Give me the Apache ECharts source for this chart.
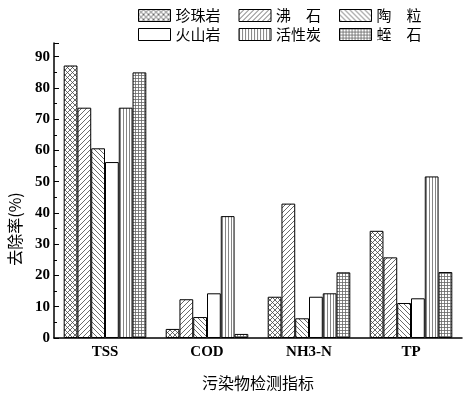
<!DOCTYPE html>
<html>
<head>
<meta charset="utf-8">
<script src="https://cdn.jsdelivr.net/npm/echarts@6/dist/echarts.min.js"></script>
<style>
html, body { margin: 0; padding: 0; background: #fff; }
#chart1 { width: 464px; height: 396px; }
</style>
</head>
<body>
<div id="chart1"></div>
<script>
let categories = ['TSS', 'COD', 'NH3-N', 'TP'];
let names = ['珍珠岩', '沸　石', '陶　粒', '火山岩', '活性炭', '蛭　石'];
let zhenzhuyan = [87.2, 2.9, 13.2, 34.3];
let feishi = [73.7, 12.4, 43.0, 25.8];
let taoli = [60.7, 6.7, 6.3, 11.2];
let huoshanyan = [56.3, 14.3, 13.2, 12.7];
let huoxingtan = [73.7, 39.0, 14.3, 51.7];
let zhishi = [85.0, 1.3, 21.0, 21.1];
let yTicks = [0, 10, 20, 30, 40, 50, 60, 70, 80, 90];

let chart1 = echarts.init(document.getElementById("chart1"));

// canvas tiles for the hatch fills
function makePattern(kind) {
    let s = 5;
    if (kind == 'vert' || kind == 'grid') s = 3;
    let c = document.createElement('canvas');
    c.width = s;
    c.height = s;
    let ctx = c.getContext('2d');
    ctx.fillStyle = '#fff';
    ctx.fillRect(0, 0, s, s);
    ctx.strokeStyle = kind == 'grid' || kind == 'vert' ? '#666' : '#444';
    ctx.lineWidth = 0.8;
    ctx.beginPath();
    if (kind == 'fwd' || kind == 'cross') {
        ctx.moveTo(-1, s + 1); ctx.lineTo(s + 1, -1);
        ctx.moveTo(-1, 1); ctx.lineTo(1, -1);
        ctx.moveTo(s - 1, s + 1); ctx.lineTo(s + 1, s - 1);
    }
    if (kind == 'back' || kind == 'cross') {
        ctx.moveTo(-1, -1); ctx.lineTo(s + 1, s + 1);
        ctx.moveTo(s - 1, -1); ctx.lineTo(s + 1, 1);
        ctx.moveTo(-1, s - 1); ctx.lineTo(1, s + 1);
    }
    if (kind == 'vert' || kind == 'grid') {
        ctx.moveTo(0.5, 0); ctx.lineTo(0.5, s);
    }
    if (kind == 'grid') {
        ctx.moveTo(0, 0.5); ctx.lineTo(s, 0.5);
    }
    ctx.stroke();
    return { image: c, repeat: 'repeat' };
}

let fills = [
    makePattern('cross'),
    makePattern('fwd'),
    makePattern('back'),
    '#ffffff',
    makePattern('vert'),
    makePattern('grid')
];
let seriesData = [zhenzhuyan, feishi, taoli, huoshanyan, huoxingtan, zhishi];

let series = [];
for (let i = 0; i < names.length; ++i) {
    series.push({
        name: names[i],
        type: 'bar',
        data: seriesData[i],
        barGap: '0%',
        barCategoryGap: '19%',
        itemStyle: { color: fills[i], borderColor: '#000', borderWidth: 1 },
        emphasis: { disabled: true }
    });
}

let latin = '"Liberation Serif", "Noto Sans CJK SC", serif';
let cjk = '"Noto Sans CJK SC", "Liberation Serif", sans-serif';

let legendBase = {
    left: 133,
    orient: 'horizontal',
    itemWidth: 32,
    itemHeight: 12,
    itemGap: 18,
    icon: 'rect',
    selectedMode: false,
    itemStyle: { borderWidth: 1, borderColor: '#000' },
    textStyle: { fontFamily: cjk, fontSize: 15, color: '#000' }
};

let option = {
    animation: false,
    backgroundColor: '#fff',
    grid: { left: 54, right: 2, top: 43, bottom: 50 },
    legend: [
        Object.assign({}, legendBase, { top: 3, data: names.slice(0, 3) }),
        Object.assign({}, legendBase, { top: 22, data: names.slice(3) })
    ],
    xAxis: {
        type: 'category',
        data: categories,
        name: '污染物检测指标',
        nameLocation: 'middle',
        nameGap: 37,
        nameTextStyle: { fontFamily: cjk, fontSize: 16, color: '#000' },
        axisLine: { lineStyle: { color: '#000', width: 1.5 } },
        axisTick: { show: false },
        axisLabel: { fontFamily: latin, fontSize: 15, fontWeight: 'bold', color: '#000', margin: 7 }
    },
    yAxis: {
        type: 'value',
        min: 0,
        max: 94.4,
        interval: 10,
        axisLine: { show: true, lineStyle: { color: '#000', width: 1.5 } },
        axisTick: { show: true, inside: true, length: 5, lineStyle: { color: '#000' } },
        minorTick: { show: true, splitNumber: 2, length: 3, lineStyle: { color: '#000' } },
        splitLine: { show: false },
        axisLabel: {
            fontFamily: latin, fontSize: 15, fontWeight: 'bold', color: '#000', margin: 4,
            showMaxLabel: false,
            formatter: function (v) { return yTicks.indexOf(v) >= 0 ? String(v) : ''; }
        }
    },
    graphic: [{
        type: 'text',
        x: 15,
        y: 229,
        rotation: Math.PI / 2,
        style: {
            text: '去除率(%)',
            fontFamily: cjk,
            fontSize: 16,
            fill: '#000',
            textAlign: 'center',
            textVerticalAlign: 'middle'
        }
    }],
    series: series
};

chart1.setOption(option);
</script>
</body>
</html>
